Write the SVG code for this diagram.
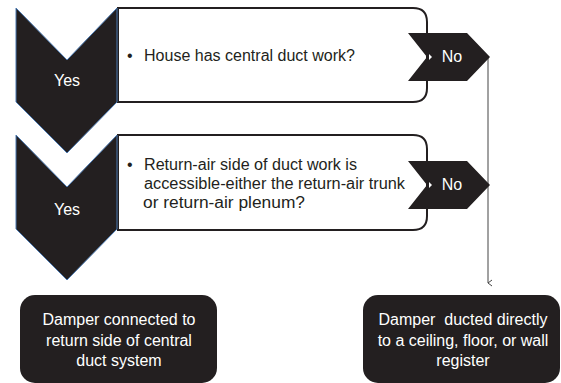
<svg xmlns="http://www.w3.org/2000/svg" width="561" height="383" viewBox="0 0 561 383">
<defs>
<style>
.chev{fill:#231f20;stroke:#4a78b0;stroke-width:1}
.box{fill:#fff;stroke:#231f20;stroke-width:2}
.no{fill:#231f20}
.notch{fill:#fff}
.end{fill:#231f20}
.t{font-family:"Liberation Sans",Arial,sans-serif;font-size:16px;fill:#231f20}
.w{font-family:"Liberation Sans",Arial,sans-serif;font-size:16px;fill:#fff;text-anchor:middle}
.conn{stroke:#444;stroke-width:1;fill:none}
</style>
<marker id="arr" markerWidth="8" markerHeight="8" refX="4" refY="7" orient="auto" markerUnits="userSpaceOnUse">
<path d="M1,3 L4,7 L7,3" fill="none" stroke="#444" stroke-width="1"/>
</marker>
</defs>
<g id="connectors">
<path class="conn" d="M488,57 V283" marker-end="url(#arr)"/>
</g>
<g id="box1">
<path class="box" d="M118,8 H413 Q427,8 427,22 V88 Q427,102 413,102 H118 Z"/>
<text class="t" x="127" y="61">•</text>
<text class="t" x="144" y="61" textLength="211" lengthAdjust="spacingAndGlyphs">House has central duct work?</text>
</g>
<g id="box2">
<path class="box" d="M118,135 H413 Q427,135 427,149 V216 Q427,230 413,230 H118 Z"/>
<text class="t" x="127" y="170">•</text>
<text class="t" x="144" y="170" textLength="213" lengthAdjust="spacingAndGlyphs">Return-air side of duct work is</text>
<text class="t" x="144" y="189" textLength="261" lengthAdjust="spacingAndGlyphs">accessible-either the return-air trunk</text>
<text class="t" x="143" y="208" textLength="162" lengthAdjust="spacingAndGlyphs">or return-air plenum?</text>
</g>
<g id="yes1">
<path class="chev" d="M16,8 L67,60 L117,8 V102 L67,153 L16,102 Z"/>
<text class="w" x="67" y="86">Yes</text>
</g>
<g id="yes2">
<path class="chev" d="M16,135 L67,187 L117,135 V229 L67,280 L16,229 Z"/>
<text class="w" x="67" y="215">Yes</text>
</g>
<g id="no1">
<path class="no" d="M408,33 H467 L490,57 L467,81 H408 L427,57 Z"/>
<path class="notch" d="M429,54 L432,57 L429,60 Z"/>
<text class="w" x="452" y="62">No</text>
</g>
<g id="no2">
<path class="no" d="M408,161 H467 L490,185 L467,209 H408 L427,185 Z"/>
<path class="notch" d="M429,182 L432,185 L429,188 Z"/>
<text class="w" x="452" y="190">No</text>
</g>
<g id="end1">
<rect class="end" x="20" y="295" width="197" height="88" rx="15"/>
<text class="w" x="119" y="325">Damper connected to</text>
<text class="w" x="119" y="346">return side of central</text>
<text class="w" x="119" y="366">duct system</text>
</g>
<g id="end2">
<rect class="end" x="363" y="295" width="197" height="88" rx="15"/>
<text class="w" x="463" y="325" style="white-space:pre">Damper  ducted directly</text>
<text class="w" x="463" y="346">to a ceiling, floor, or wall</text>
<text class="w" x="463" y="366">register</text>
</g>
</svg>
